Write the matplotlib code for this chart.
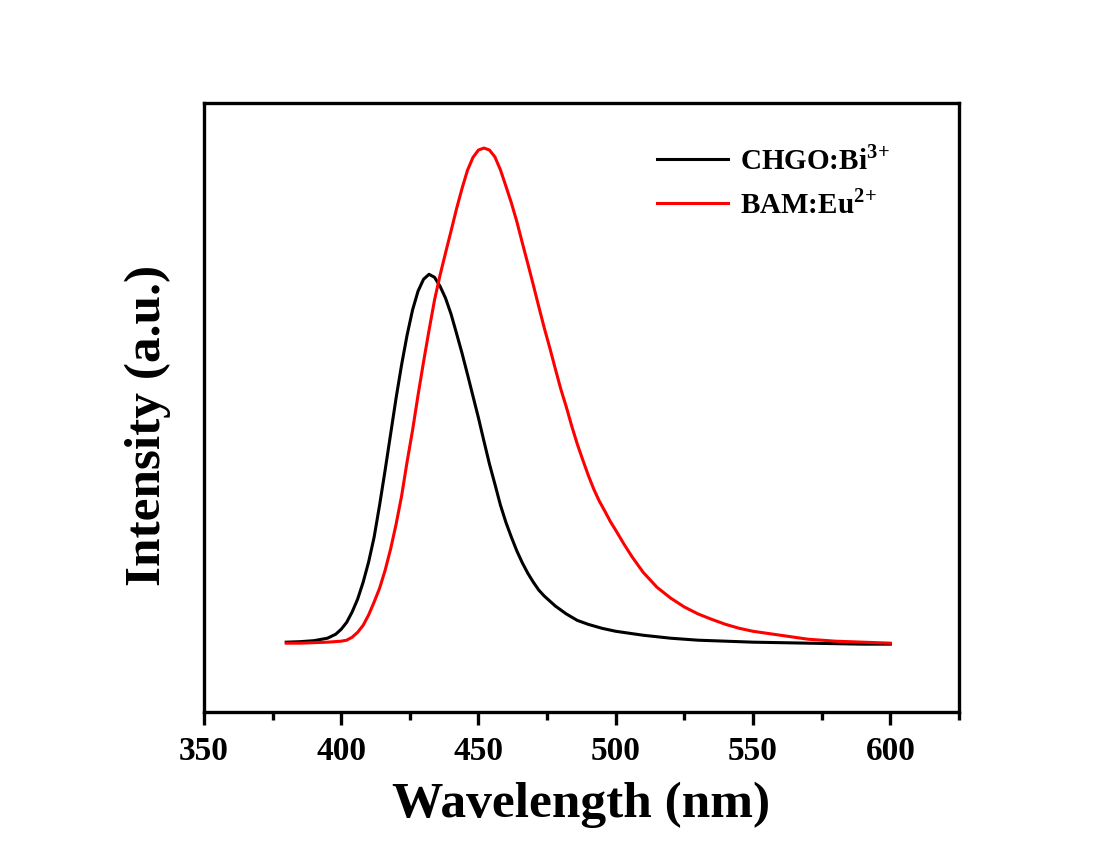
import matplotlib
matplotlib.use("Agg")
import matplotlib.pyplot as plt
from matplotlib.ticker import MultipleLocator, NullLocator

# emission spectra (normalised, BAM peak = 1)
wl_chgo = [380, 385, 390, 395, 398, 400, 402, 404, 406, 408, 410, 412, 414, 416, 418,
           420, 422, 424, 426, 428, 430, 432, 434, 436, 438, 440, 442, 444, 446, 448,
           450, 452, 454, 456, 458, 460, 462, 464, 466, 468, 470, 472, 474, 478, 482,
           486, 490, 495, 500, 505, 510, 520, 530, 540, 550, 560, 570, 580, 590, 600]
int_chgo = [0.002, 0.003, 0.005, 0.010, 0.018, 0.028, 0.042, 0.063, 0.089, 0.123, 0.164,
            0.214, 0.279, 0.349, 0.422, 0.495, 0.562, 0.622, 0.673, 0.711, 0.735, 0.745,
            0.739, 0.721, 0.697, 0.665, 0.626, 0.586, 0.543, 0.499, 0.455, 0.408, 0.362,
            0.321, 0.279, 0.244, 0.214, 0.186, 0.162, 0.141, 0.123, 0.107, 0.095, 0.075,
            0.059, 0.046, 0.038, 0.030, 0.024, 0.020, 0.016, 0.010, 0.006, 0.004, 0.002,
            0.001, 0.000, -0.001, -0.002, -0.002]

wl_bam = [380, 385, 390, 395, 400, 402, 404, 406, 408, 410, 412, 414, 416, 418, 420,
          422, 424, 426, 428, 430, 432, 434, 436, 438, 440, 442, 444, 446, 448, 450,
          452, 454, 456, 458, 460, 462, 464, 466, 468, 470, 472, 474, 476, 478, 480,
          482, 484, 486, 488, 490, 492, 494, 496, 498, 500, 503, 506, 510, 515, 520,
          525, 530, 535, 540, 545, 550, 555, 560, 570, 580, 590, 600]
int_bam = [0.000, 0.000, 0.001, 0.002, 0.004, 0.006, 0.012, 0.022, 0.036, 0.057, 0.083,
           0.111, 0.147, 0.190, 0.240, 0.297, 0.366, 0.430, 0.501, 0.568, 0.632, 0.693,
           0.743, 0.788, 0.832, 0.877, 0.918, 0.955, 0.981, 0.996, 1.000, 0.996, 0.982,
           0.956, 0.923, 0.889, 0.851, 0.808, 0.766, 0.723, 0.679, 0.636, 0.596, 0.554,
           0.513, 0.477, 0.438, 0.402, 0.370, 0.339, 0.311, 0.287, 0.267, 0.246, 0.228,
           0.200, 0.174, 0.143, 0.113, 0.091, 0.073, 0.059, 0.048, 0.038, 0.030, 0.024,
           0.020, 0.016, 0.008, 0.004, 0.002, 0.000]

plt.rcParams['font.family'] = 'Liberation Serif'
plt.rcParams['font.weight'] = 'bold'
plt.rcParams['mathtext.fontset'] = 'custom'
plt.rcParams['mathtext.rm'] = 'Liberation Serif:bold'
plt.rcParams['mathtext.bf'] = 'Liberation Serif:bold'

fig = plt.figure(figsize=(11.08, 8.47), dpi=100)
ax = fig.add_axes([0.184, 0.1594, 0.6815, 0.719])

ax.plot(wl_chgo, int_chgo, color='black', lw=2.2, label=r'CHGO:Bi$^{3\!+}$')
ax.plot(wl_bam, int_bam, color='red', lw=2.2, label=r'BAM:Eu$^{2\!+}$')

ax.set_xlim(350, 625)
ax.set_ylim(-0.139, 1.091)

ax.xaxis.set_major_locator(MultipleLocator(50))
ax.xaxis.set_minor_locator(MultipleLocator(25))
ax.yaxis.set_major_locator(NullLocator())
ax.tick_params(axis='x', which='major', direction='out', length=9.5, width=2.4,
               labelsize=24, pad=8)
ax.tick_params(axis='x', which='minor', direction='out', length=5.5, width=2.4)
for lab in ax.get_xticklabels():
    lab.set_fontweight('bold')

for s in ax.spines.values():
    s.set_linewidth(2.4)

ax.set_xlabel('Wavelength (nm)', fontsize=37, fontweight='bold', labelpad=10)
ax.set_ylabel('Intensity (a.u.)', fontsize=37, fontweight='bold')
ax.yaxis.set_label_coords(-0.044, 0.471)

leg = ax.legend(loc='upper left', bbox_to_anchor=(0.600, 0.930), frameon=False,
                fontsize=21, handlelength=2.45, handletextpad=0.4, labelspacing=0.47,
                borderpad=0, borderaxespad=0)

fig.savefig('out.png', dpi=100)
